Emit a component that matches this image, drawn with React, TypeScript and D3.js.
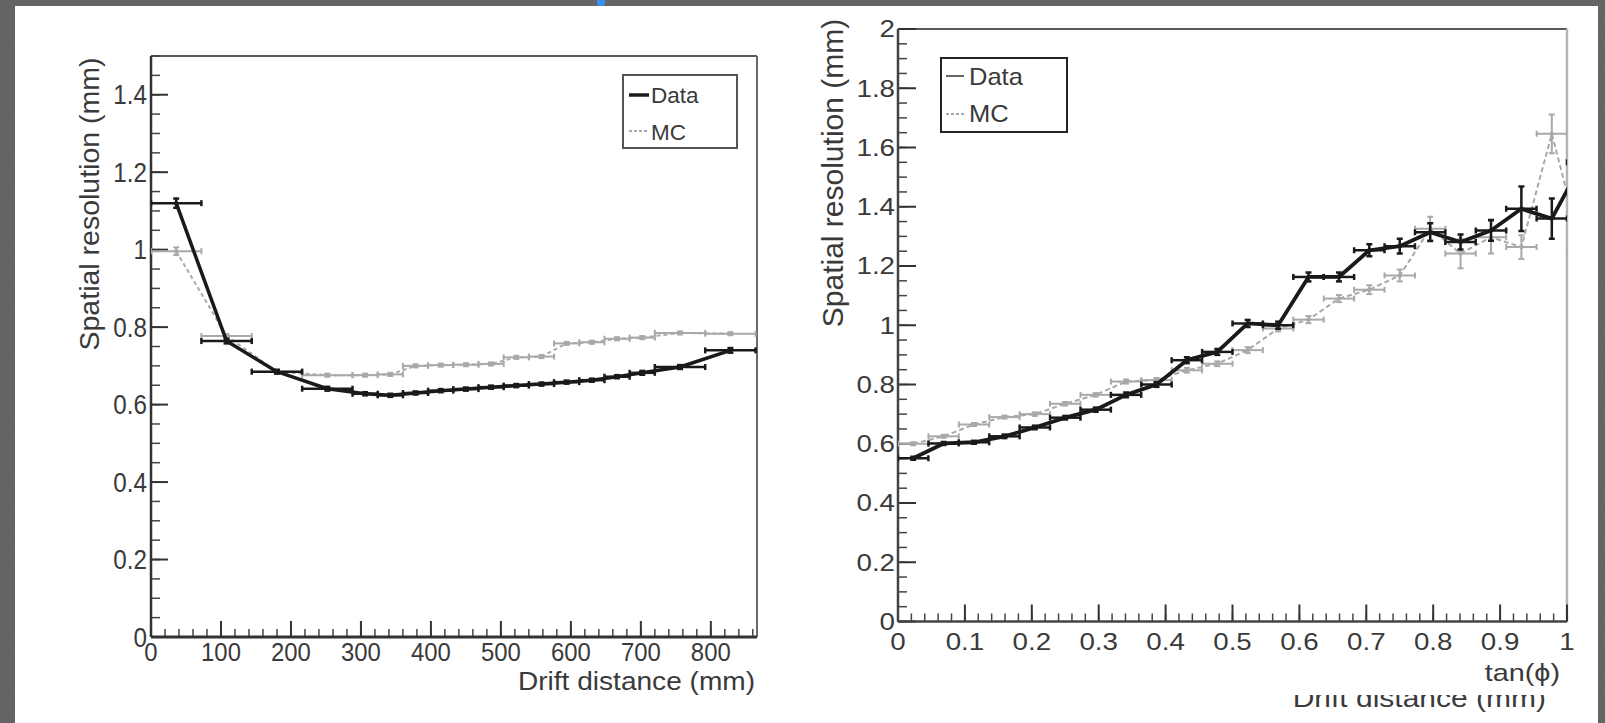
import React from "react";
import * as d3 from "d3";

// ---------- Left panel: spatial resolution vs drift distance ----------
const leftCenters = [36, 108, 180, 252, 306, 342, 378, 414, 450, 486, 522, 558, 594, 630, 666, 702, 756, 828];
const leftHalfWidths = [36, 36, 36, 36, 18, 18, 18, 18, 18, 18, 18, 18, 18, 18, 18, 18, 36, 36];
const leftData = [1.12, 0.764, 0.685, 0.641, 0.628, 0.624, 0.63, 0.636, 0.64, 0.645, 0.649, 0.653, 0.658, 0.663, 0.672, 0.682, 0.697, 0.74];
const leftDataErr = [0.012, 0.006, 0.005, 0.005, 0.004, 0.004, 0.004, 0.004, 0.004, 0.004, 0.004, 0.004, 0.004, 0.004, 0.004, 0.005, 0.005, 0.006];
const leftMC = [0.996, 0.777, 0.685, 0.676, 0.676, 0.678, 0.7, 0.702, 0.703, 0.705, 0.722, 0.724, 0.758, 0.761, 0.77, 0.773, 0.785, 0.783];
const leftMCErr = [0.01, 0.005, 0.004, 0.004, 0.004, 0.004, 0.004, 0.004, 0.004, 0.004, 0.004, 0.004, 0.004, 0.004, 0.004, 0.004, 0.004, 0.004];
const leftXTicks = [0, 100, 200, 300, 400, 500, 600, 700, 800];
const leftYTicks = [0, 0.2, 0.4, 0.6, 0.8, 1, 1.2, 1.4];
const leftYTickLabels = ["0", "0.2", "0.4", "0.6", "0.8", "1", "1.2", "1.4"];

// ---------- Right panel: spatial resolution vs tan(phi) ----------
const rightCenters = [0.0227, 0.0682, 0.1136, 0.1591, 0.2045, 0.25, 0.2955, 0.3409, 0.3864, 0.4318, 0.4773, 0.5227, 0.5682, 0.6136, 0.6591, 0.7045, 0.75, 0.7955, 0.8409, 0.8864, 0.9318, 0.9773, 1.0227];
const rightHalfWidth = 0.0227;
const rightData = [0.551, 0.601, 0.605, 0.625, 0.655, 0.688, 0.715, 0.765, 0.8, 0.882, 0.91, 1.006, 1.0, 1.163, 1.163, 1.253, 1.267, 1.314, 1.281, 1.32, 1.393, 1.36, 1.55];
const rightDataErr = [0.005, 0.005, 0.005, 0.006, 0.006, 0.006, 0.007, 0.008, 0.008, 0.01, 0.01, 0.012, 0.012, 0.015, 0.015, 0.02, 0.025, 0.03, 0.025, 0.035, 0.075, 0.068, 0.08];
const rightMC = [0.6, 0.625, 0.665, 0.69, 0.7, 0.735, 0.765, 0.81, 0.815, 0.848, 0.87, 0.916, 0.989, 1.019, 1.09, 1.12, 1.168, 1.326, 1.242, 1.297, 1.264, 1.646, 1.25];
const rightMCErr = [0.005, 0.005, 0.005, 0.005, 0.006, 0.006, 0.006, 0.007, 0.007, 0.008, 0.008, 0.01, 0.01, 0.012, 0.012, 0.015, 0.02, 0.04, 0.05, 0.055, 0.04, 0.065, 0.07];
const rightXTicks = [0, 0.1, 0.2, 0.3, 0.4, 0.5, 0.6, 0.7, 0.8, 0.9, 1];
const rightXTickLabels = ["0", "0.1", "0.2", "0.3", "0.4", "0.5", "0.6", "0.7", "0.8", "0.9", "1"];
const rightYTicks = [0, 0.2, 0.4, 0.6, 0.8, 1, 1.2, 1.4, 1.6, 1.8, 2];
const rightYTickLabels = ["0", "0.2", "0.4", "0.6", "0.8", "1", "1.2", "1.4", "1.6", "1.8", "2"];

const legendLabels = ["Data", "MC"];

const FONT = "'Liberation Sans', Arial, Helvetica, sans-serif";
const TXT = "#3a3a3a";
const DATA_COL = "#1a1a1a";
const MC_COL = "#a9a9a9";

type Pt = { x: number; y: number; xe: number; ye: number };

function Series({ pts, xs, ys, color, width, dash, ebWidth }: { pts: Pt[]; xs: any; ys: any; color: string; width: number; dash?: string; ebWidth: number }) {
  const line = d3.line<Pt>().x((d) => xs(d.x)).y((d) => ys(d.y));
  return (
    <g>
      <path d={line(pts) || ""} fill="none" stroke={color} strokeWidth={width} strokeDasharray={dash} strokeLinejoin="round" />
      {pts.map((d, i) => {
        const cx = xs(d.x), cy = ys(d.y);
        const x0 = xs(d.x - d.xe), x1 = xs(d.x + d.xe);
        const y0 = ys(d.y - d.ye), y1 = ys(d.y + d.ye);
        return (
          <g key={i} stroke={color} strokeWidth={ebWidth}>
            <line x1={x0} x2={x1} y1={cy} y2={cy} />
            <line x1={x0} x2={x0} y1={cy - 3} y2={cy + 3} />
            <line x1={x1} x2={x1} y1={cy - 3} y2={cy + 3} />
            <line x1={cx} x2={cx} y1={y0} y2={y1} />
            <line x1={cx - 3} x2={cx + 3} y1={y0} y2={y0} />
            <line x1={cx - 3} x2={cx + 3} y1={y1} y2={y1} />
            <circle cx={cx} cy={cy} r={2.2} fill={color} stroke="none" />
          </g>
        );
      })}
    </g>
  );
}

export default function App() {
  // Left scales
  const lx = d3.scaleLinear().domain([0, 866]).range([151, 757]);
  const ly = d3.scaleLinear().domain([0, 1.5]).range([637, 56]);
  // Right scales
  const rx = d3.scaleLinear().domain([0, 1]).range([898, 1567]);
  const ry = d3.scaleLinear().domain([0, 2]).range([621.5, 29]);

  const leftDataPts: Pt[] = leftCenters.map((c, i) => ({ x: c, y: leftData[i], xe: leftHalfWidths[i], ye: leftDataErr[i] }));
  const leftMCPts: Pt[] = leftCenters.map((c, i) => ({ x: c, y: leftMC[i], xe: leftHalfWidths[i], ye: leftMCErr[i] }));
  const rightDataPts: Pt[] = rightCenters.map((c, i) => ({ x: c, y: rightData[i], xe: rightHalfWidth, ye: rightDataErr[i] }));
  const rightMCPts: Pt[] = rightCenters.map((c, i) => ({ x: c, y: rightMC[i], xe: rightHalfWidth, ye: rightMCErr[i] }));

  const lxMinor = d3.range(0, 866, 20);
  const lyMinor = d3.range(0, 1.5001, 0.05);
  const rxMinor = d3.range(0, 1.0001, 0.02);
  const ryMinor = d3.range(0, 2.0001, 0.05);

  const [lx0, lx1] = lx.range();
  const [ly0, ly1] = ly.range();
  const [rx0, rx1] = rx.range();
  const [ry0, ry1] = ry.range();

  return (
    <svg width={1605} height={723} style={{ position: "fixed", left: 0, top: 0 }} fontFamily={FONT}>
      <defs>
        <clipPath id="clipL"><rect x={lx0} y={ly1} width={lx1 - lx0} height={ly0 - ly1} /></clipPath>
        <clipPath id="clipR"><rect x={rx0} y={ry1} width={rx1 - rx0} height={ry0 - ry1} /></clipPath>
        <clipPath id="clipBottom"><rect x={1200} y={695} width={400} height={28} /></clipPath>
        <filter id="noise">
          <feTurbulence type="fractalNoise" baseFrequency="0.9" numOctaves="2" seed="3" />
          <feColorMatrix type="matrix" values="0 0 0 0 0.37  0 0 0 0 0.37  0 0 0 0 0.37  0 0 0 0.35 0" />
        </filter>
      </defs>
      {/* background */}
      <rect x={0} y={0} width={1605} height={723} fill="#5f5f5f" />
      <rect x={0} y={0} width={1605} height={723} filter="url(#noise)" opacity={0.5} />
      <rect x={15} y={6} width={1583} height={717} fill="#ffffff" />
      <rect x={597} y={-4} width={8} height={10} rx={3} fill="#3b8ff0" />

      {/* ================= LEFT PANEL ================= */}
      <line x1={lx0} x2={lx1} y1={ly1} y2={ly1} stroke="#5a5a5a" strokeWidth={2} />
      <line x1={lx1} x2={lx1} y1={ly1} y2={ly0} stroke="#6a6a6a" strokeWidth={2} />
      {lyMinor.map((v, i) => (
        <line key={"lym" + i} x1={lx0} x2={lx0 + 9} y1={ly(v)} y2={ly(v)} stroke="#444" strokeWidth={1.5} />
      ))}
      {leftYTicks.map((v, i) => (
        <line key={"lyM" + i} x1={lx0} x2={lx0 + 17} y1={ly(v)} y2={ly(v)} stroke="#333" strokeWidth={2} />
      ))}
      {lxMinor.map((v, i) => (
        <line key={"lxm" + i} x1={lx(v)} x2={lx(v)} y1={ly0} y2={ly0 - 8} stroke="#444" strokeWidth={1.5} />
      ))}
      {leftXTicks.map((v, i) => (
        <line key={"lxM" + i} x1={lx(v)} x2={lx(v)} y1={ly0} y2={ly0 - 16} stroke="#333" strokeWidth={2} />
      ))}
      <line x1={lx0} x2={lx0} y1={ly1} y2={ly0} stroke="#333" strokeWidth={2.5} />
      <line x1={lx0} x2={lx1} y1={ly0} y2={ly0} stroke="#333" strokeWidth={3} />
      {leftYTicks.map((v, i) => (
        <g key={"lyl" + i} transform={`translate(${lx0 - 4},${ly(v)}) scale(0.95,1.06)`}>
          <text x={0} y={0} dy="0.36em" textAnchor="end" fontSize={25.5} fill={TXT}>{leftYTickLabels[i]}</text>
        </g>
      ))}
      {leftXTicks.map((v, i) => (
        <g key={"lxl" + i} transform={`translate(${lx(v)},661) scale(0.92,1)`}>
          <text x={0} y={0} textAnchor="middle" fontSize={26} fill={TXT}>{String(v)}</text>
        </g>
      ))}
      <g transform="translate(755,690) scale(1.08,1)">
        <text x={0} y={0} textAnchor="end" fontSize={26} fill={TXT}>Drift distance (mm)</text>
      </g>
      <text transform={`translate(99,204) rotate(-90)`} textAnchor="middle" fontSize={28.5} fill={TXT}>Spatial resolution (mm)</text>
      <g clipPath="url(#clipL)">
        <Series pts={leftMCPts} xs={lx} ys={ly} color={MC_COL} width={2} dash="4,3" ebWidth={2} />
        <Series pts={leftDataPts} xs={lx} ys={ly} color={DATA_COL} width={3.5} ebWidth={2.5} />
      </g>
      <rect x={623} y={75} width={114} height={73} fill="#fff" stroke="#555" strokeWidth={2} />
      <line x1={629} x2={649} y1={95} y2={95} stroke={DATA_COL} strokeWidth={3.5} />
      <text x={651} y={103} fontSize={22.5} fill={TXT}>{legendLabels[0]}</text>
      <line x1={629} x2={649} y1={131} y2={131} stroke={MC_COL} strokeWidth={2} strokeDasharray="3,2" />
      <text x={651} y={140} fontSize={22.5} fill={TXT}>{legendLabels[1]}</text>

      {/* ================= RIGHT PANEL ================= */}
      <line x1={rx0} x2={rx1} y1={ry1} y2={ry1} stroke="#5a5a5a" strokeWidth={2} />
      <line x1={rx1} x2={rx1} y1={ry1} y2={ry0} stroke="#b5b5b5" strokeWidth={2.5} />
      {ryMinor.map((v, i) => (
        <line key={"rym" + i} x1={rx0} x2={rx0 + 9} y1={ry(v)} y2={ry(v)} stroke="#444" strokeWidth={1.5} />
      ))}
      {rightYTicks.map((v, i) => (
        <line key={"ryM" + i} x1={rx0} x2={rx0 + 18} y1={ry(v)} y2={ry(v)} stroke="#333" strokeWidth={2} />
      ))}
      {rxMinor.map((v, i) => (
        <line key={"rxm" + i} x1={rx(v)} x2={rx(v)} y1={ry0} y2={ry0 - 8} stroke="#444" strokeWidth={1.5} />
      ))}
      {rightXTicks.map((v, i) => (
        <line key={"rxM" + i} x1={rx(v)} x2={rx(v)} y1={ry0} y2={ry0 - 17} stroke="#333" strokeWidth={2} />
      ))}
      <line x1={rx0} x2={rx0} y1={ry1} y2={ry0} stroke="#444" strokeWidth={2.5} />
      <line x1={rx0} x2={rx1} y1={ry0} y2={ry0} stroke="#444" strokeWidth={2.5} />
      {rightYTicks.map((v, i) => (
        <g key={"ryl" + i} transform={`translate(${rx0 - 3},${ry(v)}) scale(1.18,1)`}>
          <text x={0} y={0} dy="0.36em" textAnchor="end" fontSize={23.5} fill={TXT}>{rightYTickLabels[i]}</text>
        </g>
      ))}
      {rightXTicks.map((v, i) => (
        <g key={"rxl" + i} transform={`translate(${rx(v)},650) scale(1.18,1)`}>
          <text x={0} y={0} textAnchor="middle" fontSize={23.5} fill={TXT}>{rightXTickLabels[i]}</text>
        </g>
      ))}
      <g transform="translate(1560,681) scale(1.2,1)">
        <text x={0} y={0} textAnchor="end" fontSize={24} fill={TXT}>tan(ϕ)</text>
      </g>
      <text transform={`translate(843,173) rotate(-90)`} textAnchor="middle" fontSize={30} fill={TXT}>Spatial resolution (mm)</text>
      <g clipPath="url(#clipBottom)">
        <g transform="translate(1546,707) scale(1.2,1)">
          <text x={0} y={0} textAnchor="end" fontSize={25} fill={TXT}>Drift distance (mm)</text>
        </g>
      </g>
      <g clipPath="url(#clipR)">
        <Series pts={rightMCPts} xs={rx} ys={ry} color={MC_COL} width={2} dash="5,3" ebWidth={2} />
        <Series pts={rightDataPts} xs={rx} ys={ry} color={DATA_COL} width={3.8} ebWidth={2.5} />
      </g>
      <rect x={941} y={58} width={126} height={74} fill="#fff" stroke="#222" strokeWidth={2} />
      <line x1={946} x2={964} y1={76} y2={76} stroke="#666" strokeWidth={2} />
      <g transform="translate(969,85) scale(1.11,1)">
        <text x={0} y={0} fontSize={23} fill={TXT}>{legendLabels[0]}</text>
      </g>
      <line x1={946} x2={964} y1={114} y2={114} stroke={MC_COL} strokeWidth={2} strokeDasharray="3,2" />
      <g transform="translate(969,122) scale(1.11,1)">
        <text x={0} y={0} fontSize={23} fill={TXT}>{legendLabels[1]}</text>
      </g>
    </svg>
  );
}
